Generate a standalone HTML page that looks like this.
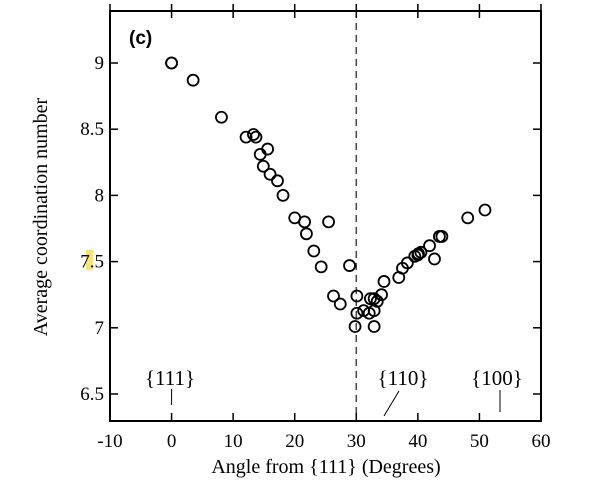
<!DOCTYPE html>
<html><head><meta charset="utf-8"><style>
html,body{margin:0;padding:0;background:#fff;}
svg{display:block;}
text{font-family:"Liberation Serif",serif;fill:#000;}
</style></head><body>
<svg id="chart" width="612" height="496" viewBox="0 0 612 496" xmlns="http://www.w3.org/2000/svg"></svg>
<script>
const xTicks=[-10,0,10,20,30,40,50,60];
const yTicks=[6.5,7,7.5,8,8.5,9];
const yTickLabels=["6.5","7","7.5","8","8.5","9"];
const angles=[0,0,3.5,8.1,12.1,13.3,13.7,15.6,14.4,14.9,16.0,17.2,18.1,20.0,21.6,25.5,21.9,23.1,24.3,28.9,26.3,27.4,30.1,30.1,29.8,32.9,31.2,32.1,32.9,32.3,32.9,33.4,34.1,34.5,36.9,37.5,38.3,39.5,40.1,40.5,40.0,41.9,42.7,43.5,43.9,48.1,50.9];
const coordination=[9.0,9.0,8.87,8.59,8.44,8.46,8.44,8.35,8.31,8.22,8.16,8.11,8.0,7.83,7.80,7.80,7.71,7.58,7.46,7.47,7.24,7.18,7.24,7.11,7.01,7.01,7.13,7.11,7.13,7.22,7.22,7.20,7.25,7.35,7.38,7.45,7.49,7.54,7.56,7.57,7.55,7.62,7.52,7.69,7.69,7.83,7.89];
const annotations=[{label:"{111}",x:0},{label:"{110}",x:35},{label:"{100}",x:53.5}];

const svg=document.getElementById('chart');
const NS='http://www.w3.org/2000/svg';
const L=110,R=541,T=11,B=421;
const xs=v=>L+(v+10)*(R-L)/70;
const ys=v=>63+(9-v)*132.4;
function mk(tag,attrs,parent){const e=document.createElementNS(NS,tag);for(const k in attrs)e.setAttribute(k,attrs[k]);(parent||svg).appendChild(e);return e;}

const hl=mk('rect',{x:86,y:250,width:7,height:20,fill:'#f7e37a'});



const frame=mk('rect',{x:L,y:T,width:R-L,height:B-T,fill:'none',stroke:'#000','stroke-width':2});



const ref=mk('line',{x1:xs(30),x2:xs(30),y1:T,y2:B,stroke:'#444','stroke-width':1.5,'stroke-dasharray':'7,5'});



xTicks.forEach(v=>{
  const x=xs(v);
  const t=mk('line',{x1:x,x2:x,y1:B,y2:B-8,stroke:'#000','stroke-width':1.5});
  
  
  const t2=mk('line',{x1:x,x2:x,y1:T-7,y2:T+7,stroke:'#000','stroke-width':1.5});
  
  
  const lb=mk('text',{x:x,y:447,'font-size':19,'text-anchor':'middle'});
  lb.textContent=String(v);
  
  
});
yTicks.forEach((v,i)=>{
  const y=ys(v);
  const t=mk('line',{x1:L,x2:L+8,y1:y,y2:y,stroke:'#000','stroke-width':1.5});
  
  
  const t2=mk('line',{x1:R,x2:R-8,y1:y,y2:y,stroke:'#000','stroke-width':1.5});
  
  
  const lb=mk('text',{x:104,y:y+6,'font-size':19,'text-anchor':'end'});
  lb.textContent=yTickLabels[i];
  
  
});

angles.forEach((a,i)=>{
  const c=mk('circle',{cx:xs(a),cy:ys(coordination[i]),r:5.5,fill:'none',stroke:'#000','stroke-width':1.8});
  
  
});

annotations.forEach((a,i)=>{
  const x=xs(a.x);
  const lx=[170,403,497][i];
  const t=mk('text',{x:lx,y:385,'font-size':21,'text-anchor':'middle'});
  t.textContent=a.label;
  
  
  let ln;
  if(i===0) ln=mk('line',{x1:x,x2:x,y1:389,y2:405,stroke:'#000','stroke-width':1});
  else if(i===1) ln=mk('line',{x1:384,x2:399,y1:416,y2:391,stroke:'#000','stroke-width':1});
  else ln=mk('line',{x1:500,x2:500,y1:390,y2:412,stroke:'#000','stroke-width':1});
  
  
});

const pl=mk('text',{x:129,y:44,'font-size':19,'font-weight':'bold',style:'font-family:"Liberation Sans",sans-serif'});
pl.textContent='(c)';



const xt=mk('text',{x:326,y:473,'font-size':20,'text-anchor':'middle'});
xt.textContent='Angle from {111} (Degrees)';



const yt=mk('text',{x:0,y:0,'font-size':20,'text-anchor':'middle',transform:'translate(47,217) rotate(-90)'});
yt.textContent='Average coordination number';


</script>
</body></html>
